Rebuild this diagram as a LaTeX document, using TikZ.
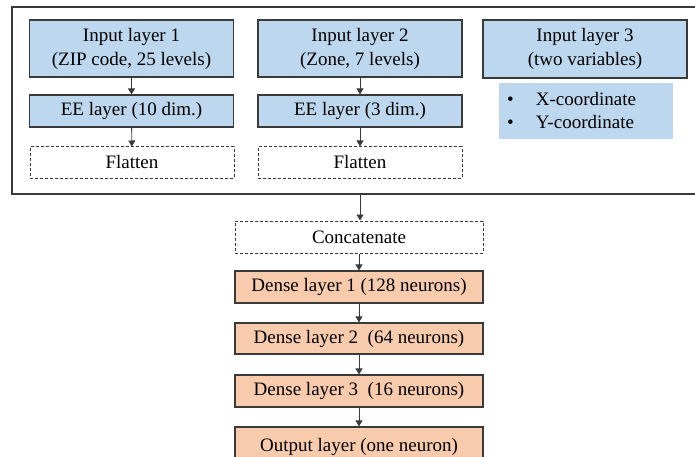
\documentclass[tikz,border=0pt]{standalone}
\usepackage{fontspec}
\setmainfont{Liberation Serif}
\usetikzlibrary{arrows.meta}
\definecolor{lblue}{HTML}{BDD7EE}
\definecolor{lorange}{HTML}{F8CBAD}
\definecolor{edge}{HTML}{3A3A3A}
\begin{document}
\begin{tikzpicture}[x=1pt,y=-1pt,
  every node/.style={font=\fontsize{19}{24}\selectfont, inner sep=0pt, align=center},
  bluebox/.style={draw=edge, line width=1.2pt, fill=lblue, rectangle, minimum width=204pt},
  orangebox/.style={draw=edge, line width=1.2pt, fill=lorange, rectangle, minimum width=248pt},
  dashbox/.style={draw=edge, line width=1pt, dashed, dash pattern=on 3pt off 2pt, fill=white, rectangle},
  conn/.style={draw=edge, line width=0.9pt, -{Triangle[width=7pt,length=6pt]}}
]
\useasboundingbox (0,0) rectangle (695,457);
\clip (0,0) rectangle (695,457);
% outer frame
\draw[edge, line width=1.1pt] (705,7) -- (12,7) -- (12,194) -- (705,194);
\coordinate (framebot) at (360,194);
% column 1
\node[bluebox, minimum height=57pt] (in1) at (131.5,48.5) {Input layer 1\\(ZIP code, 25 levels)};
\node[bluebox, minimum height=32pt] (ee1) at (131.5,111) {EE layer (10 dim.)};
\node[dashbox, minimum width=204pt, minimum height=31pt] (fl1) at (132,162.5) {Flatten};
% column 2
\node[bluebox, minimum height=57pt] (in2) at (360,48.5) {Input layer 2\\(Zone, 7 levels)};
\node[bluebox, minimum height=32pt] (ee2) at (360,111) {EE layer (3 dim.)};
\node[dashbox, minimum width=204pt, minimum height=31pt] (fl2) at (360,162.5) {Flatten};
% column 3
\node[bluebox, minimum height=58pt] (in3) at (585,49) {Input layer 3\\(two variables)};
\node[fill=lblue, rectangle, minimum width=174pt, minimum height=56pt] (bul) at (586,111) {};
\node[anchor=west] (bultext) at (507,112) {\begin{tabular}{@{}l@{\hspace{22pt}}l@{}}\textbullet & X-coordinate\\[-0.5pt] \textbullet & Y-coordinate\end{tabular}};
% lower stack
\node[dashbox, minimum width=248pt, minimum height=32pt] (cat) at (359,237) {Concatenate};
\node[orangebox, minimum height=32pt] (d1) at (359,287) {Dense layer 1 (128 neurons)};
\node[orangebox, minimum height=31pt] (d2) at (359,338.5) {Dense layer 2\ \ (64 neurons)};
\node[orangebox, minimum height=32pt] (d3) at (359,391) {Dense layer 3\ \ (16 neurons)};
\node[orangebox, minimum height=36pt, text depth=0pt] (out) at (359,445) {Output layer (one neuron)};
% connectors
\draw[conn] (in1) -- (ee1);
\draw[conn] (ee1) -- (fl1);
\draw[conn] (in2) -- (ee2);
\draw[conn] (ee2) -- (fl2);
\draw[conn] (framebot) -- (cat.north -| framebot);
\draw[conn] (cat) -- (d1);
\draw[conn] (d1) -- (d2);
\draw[conn] (d2) -- (d3);
\draw[conn] (d3) -- (out);
\end{tikzpicture}
\end{document}
